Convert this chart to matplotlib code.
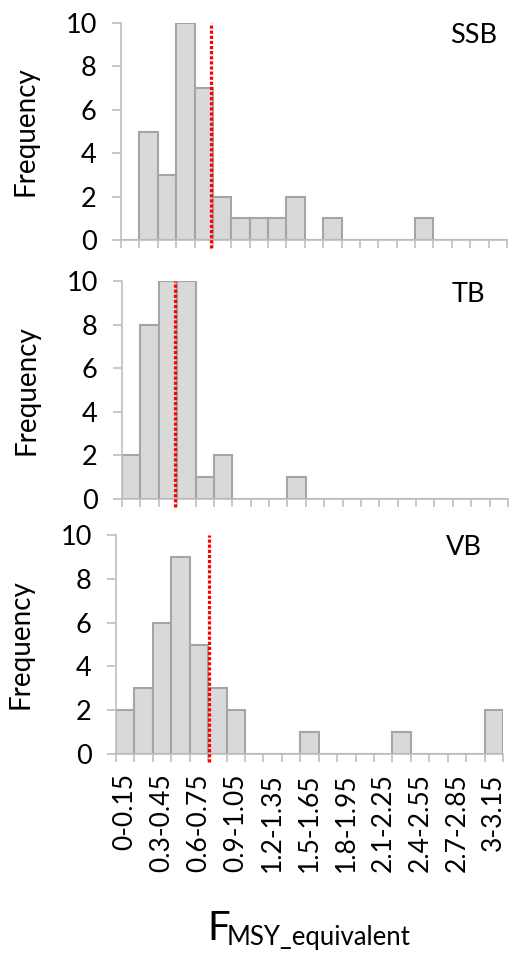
import matplotlib
matplotlib.use('Agg')
import matplotlib.pyplot as plt
import numpy as np

plt.rcParams['font.family'] = ['Lato', 'DejaVu Sans']

# bin labels (0.15 wide bins, 0 .. 3.15)
bin_starts = [round(0.15 * i, 2) for i in range(21)]
bin_labels = ['%g-%g' % (s, round(s + 0.15, 2)) for s in bin_starts]

ssb_counts = [0, 5, 3, 10, 7, 2, 1, 1, 1, 2, 0, 1, 0, 0, 0, 0, 1, 0, 0, 0, 0]
tb_counts = [2, 8, 10, 10, 1, 2, 0, 0, 0, 1, 0, 0, 0, 0, 0, 0, 0, 0, 0, 0, 0]
vb_counts = [2, 3, 6, 9, 5, 3, 2, 0, 0, 0, 1, 0, 0, 0, 0, 1, 0, 0, 0, 0, 2]

panel_names = ['SSB', 'TB', 'VB']
fmsy_median = [0.732, 0.435, 0.753]

W, H = 516, 956
fig = plt.figure(figsize=(W / 100, H / 100), dpi=100)

# axes boxes in pixels: left, right, y of 0, y of 10
boxes = [(121, 507, 240, 23), (122, 508, 499, 281), (116, 503, 754, 535)]
label_pos = [(0.974, 0.908), (0.94, 0.904), (0.946, 0.909)]
all_counts = [ssb_counts, tb_counts, vb_counts]

grey = '#bfbfbf'
x = np.arange(len(bin_labels))

for k, (counts, name, fm) in enumerate(zip(all_counts, panel_names, fmsy_median)):
    l, r, y0, y10 = boxes[k]
    ax = fig.add_axes([l / W, 1 - y0 / H, (r - l) / W, (y0 - y10) / H])
    ax.bar(x, counts, width=1.0, color='#d9d9d9', edgecolor='#a5a5a5', linewidth=1.5, zorder=2)
    ax.set_xlim(-0.5, len(bin_labels) - 0.5)
    ax.set_ylim(0, 10)
    ax.set_yticks(range(0, 11, 2))
    for s in ['top', 'right']:
        ax.spines[s].set_visible(False)
    for s in ['left', 'bottom']:
        ax.spines[s].set_color(grey)
        ax.spines[s].set_linewidth(1.2)
    ax.tick_params(axis='y', length=6.5, width=1.2, color=grey, labelsize=19.5, pad=11)
    ax.set_xticks(np.arange(-0.5, len(bin_labels)), minor=True)
    ax.tick_params(axis='x', which='minor', length=6, width=1.2, color=grey)
    if k == 2:
        ax.set_xticks(x[::2])
        ax.set_xticklabels(bin_labels[::2], rotation=90)
        ax.tick_params(axis='x', which='major', length=0, labelsize=19, pad=14)
    else:
        ax.set_xticks([])
    ax.set_ylabel('Frequency', fontsize=20, labelpad=19)
    ax.text(label_pos[k][0], label_pos[k][1], name, transform=ax.transAxes,
            ha='right', va='baseline', fontsize=19.5)
    xv = fm / 0.15 - 0.5
    ax.vlines(xv, -0.35, 10, colors='#ff0000', linewidth=2.3,
              linestyles=(0, (1, 0.6)), clip_on=False, zorder=3)

fig.text(207 / W, 1 - 940 / H, 'F', fontsize=29, ha='left', va='baseline')
fig.text(227 / W, 1 - 945 / H, 'MSY_equivalent', fontsize=18.5, ha='left', va='baseline')

fig.savefig('out.png', dpi=100)
